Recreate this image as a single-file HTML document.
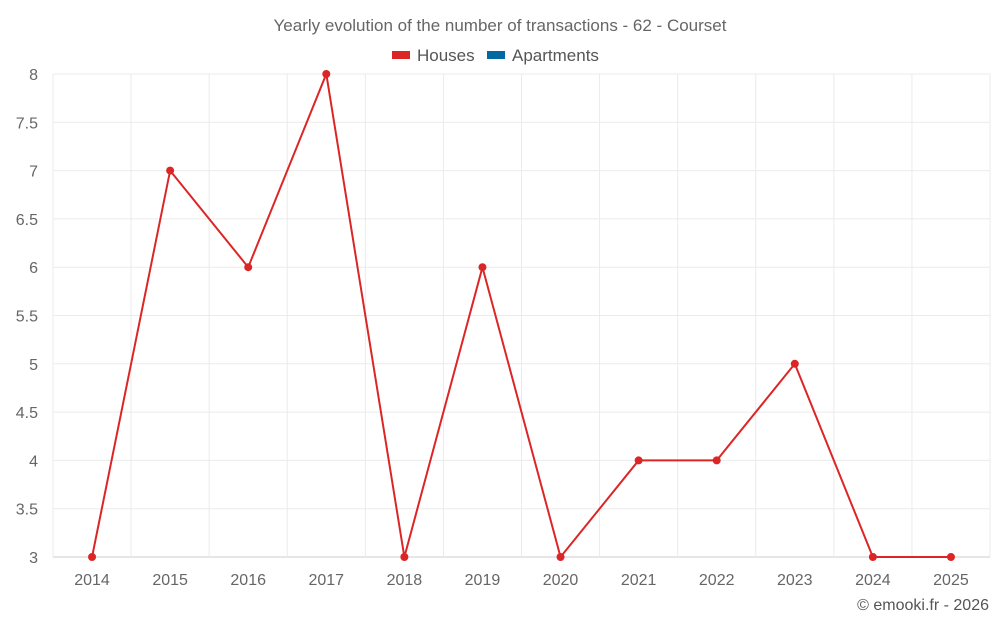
<!DOCTYPE html>
<html><head><meta charset="utf-8"><style>
body{margin:0;background:#fff;font-family:"Liberation Sans",sans-serif}
</style></head><body>
<svg id="c" width="1000" height="625" xmlns="http://www.w3.org/2000/svg" font-family="Liberation Sans, sans-serif"></svg>
<script>
const years=["2014","2015","2016","2017","2018","2019","2020","2021","2022","2023","2024","2025"];
const houses=[3,7,6,8,3,6,3,4,4,5,3,3];
const yTicks=[3,3.5,4,4.5,5,5.5,6,6.5,7,7.5,8];
const L=53,R=990,T=74,B=557,yMin=3,yMax=8;
const bw=(R-L)/years.length;
const x=i=>L+bw*(i+0.5);
const y=v=>B-(v-yMin)/(yMax-yMin)*(B-T);
const svg=document.getElementById('c');
const NS='http://www.w3.org/2000/svg';
function mk(t,a,txt){const e=document.createElementNS(NS,t);for(const k in a)e.setAttribute(k,a[k]);if(txt!=null)e.textContent=txt;svg.appendChild(e);return e;}
let e;
e=mk('text',{x:500,y:31,'text-anchor':'middle','font-size':17,fill:'#666'},'Yearly evolution of the number of transactions - 62 - Courset');


yTicks.forEach(v=>{
  e=mk('line',{x1:L,x2:R,y1:y(v),y2:y(v),stroke:v===yMin?'#ccc':'#ebebeb','stroke-width':1});
  
  
  e=mk('text',{x:38,y:y(v)+6,'text-anchor':'end','font-size':16,fill:'#666'},String(v));
  
  
});
for(let i=0;i<=years.length;i++){
  e=mk('line',{x1:L+bw*i,x2:L+bw*i,y1:T,y2:B,stroke:'#ebebeb','stroke-width':1});
  
  
}
years.forEach((yr,i)=>{
  e=mk('text',{x:x(i),y:585,'text-anchor':'middle','font-size':16,fill:'#666'},yr);
  
  
});
e=mk('polyline',{points:houses.map((v,i)=>x(i)+','+y(v)).join(' '),fill:'none',stroke:'#dc2626','stroke-width':2});


houses.forEach((v,i)=>{
  e=mk('circle',{cx:x(i),cy:y(v),r:4,fill:'#dc2626'});
  
  
});
e=mk('rect',{x:392,y:51,width:18,height:8,fill:'#dc2626'});


e=mk('text',{x:417,y:61,'font-size':17,fill:'#555'},'Houses');


e=mk('rect',{x:487,y:51,width:18,height:8,fill:'#0369a1'});


e=mk('text',{x:512,y:61,'font-size':17,fill:'#555'},'Apartments');


e=mk('text',{x:989,y:610,'text-anchor':'end','font-size':16,fill:'#555'},'© emooki.fr - 2026');


</script>
</body></html>
